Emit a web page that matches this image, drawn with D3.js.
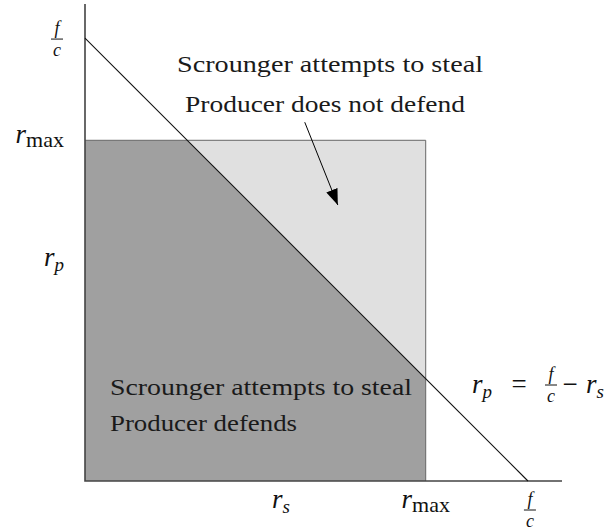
<!DOCTYPE html>
<html>
<head>
<meta charset="utf-8">
<script src="https://cdn.jsdelivr.net/npm/d3@7/dist/d3.min.js"></script>
<style>
    body { margin: 0; background: #fff; }
    svg { display: block; }
</style>
</head>
<body>
<div id="container"></div>
<script>
// values (units of r)
const axisMax = 1.4;
const rMax = 1;
const fOverC = 1.3;
const xLabels = [
    { v: 0.575, main: 'r', sub: 's' },
    { v: rMax, main: 'r', sub: 'max' },
    { v: fOverC, frac: ['f', 'c'] }
];
const yLabels = [
    { v: fOverC, frac: ['f', 'c'] },
    { v: rMax, main: 'r', sub: 'max' },
    { v: 0.64, main: 'r', sub: 'p' }
];
const arrowFrom = [0.645, 1.053];
const arrowTo = [0.742, 0.81];

window.addEventListener('load', () => {
    const W = 616, H = 530;
    const svg = d3.select('#container')
        .append('svg')
        .attr('width', W)
        .attr('height', H);

    const x = d3.scaleLinear().domain([0, axisMax]).range([85, 562]);
    const y = d3.scaleLinear().domain([0, axisMax]).range([481, 4]);
    const line = d3.line().x(d => x(d[0])).y(d => y(d[1]));

    const serif = '"Liberation Serif", "DejaVu Serif", serif';

    // regions: square split by r_p = f/c - r_s
    const k = fOverC - rMax;
    const lower = [[0, 0], [rMax, 0], [rMax, k], [k, rMax], [0, rMax]];
    const upper = [[k, rMax], [rMax, rMax], [rMax, k]];
    svg.append('path')
        .attr('d', line(lower) + 'Z')
        .attr('fill', '#a0a0a0');
    svg.append('path')
        .attr('d', line(upper) + 'Z')
        .attr('fill', '#e0e0e0');
    // square outline (top + right)
    svg.append('path')
        .attr('d', line([[0, rMax], [rMax, rMax], [rMax, 0]]))
        .attr('fill', 'none')
        .attr('stroke', '#666')
        .attr('stroke-width', 1);

    // axes
    svg.append('path')
        .attr('d', line([[0, axisMax], [0, 0], [axisMax, 0]]))
        .attr('fill', 'none')
        .attr('stroke', '#444')
        .attr('stroke-width', 1.6);

    // constraint line
    svg.append('path')
        .attr('d', line([[0, fOverC], [fOverC, 0]]))
        .attr('stroke', '#111')
        .attr('stroke-width', 1.1);

    // arrow
    svg.append('defs').append('marker')
        .attr('id', 'head')
        .attr('viewBox', '0 0 16 12')
        .attr('refX', 16).attr('refY', 6)
        .attr('markerWidth', 16).attr('markerHeight', 12)
        .attr('markerUnits', 'userSpaceOnUse')
        .attr('orient', 'auto')
        .append('path')
        .attr('d', 'M0,0 L16,6 L0,12 Z')
        .attr('fill', '#000');
    svg.append('path')
        .attr('d', line([arrowFrom, arrowTo]))
        .attr('stroke', '#000')
        .attr('stroke-width', 1)
        .attr('marker-end', 'url(#head)');

    // helpers for math text
    const subLabel = (g, px, py, anchor, main, sub) => {
        const t = g.append('text')
            .attr('x', px).attr('y', py)
            .attr('text-anchor', anchor)
            .attr('font-family', serif)
            .attr('fill', '#111');
        t.append('tspan')
            .attr('font-style', 'italic')
            .attr('font-size', 27)
            .text(main);
        t.append('tspan')
            .attr('font-size', sub.length > 1 ? 22 : 19)
            .attr('font-style', sub.length > 1 ? 'normal' : 'italic')
            .attr('dy', sub.length > 1 ? 4 : 5)
            .text(sub);
    };
    const fracLabel = (g, cx, cy, parts) => {
        g.append('text')
            .attr('x', cx).attr('y', cy - 5)
            .attr('text-anchor', 'middle')
            .attr('font-family', serif)
            .attr('font-style', 'italic')
            .attr('font-size', 18)
            .attr('fill', '#111')
            .text(parts[0]);
        g.append('line')
            .attr('x1', cx - 6).attr('x2', cx + 6)
            .attr('y1', cy).attr('y2', cy)
            .attr('stroke', '#111').attr('stroke-width', 1);
        g.append('text')
            .attr('x', cx).attr('y', cy + 17)
            .attr('text-anchor', 'middle')
            .attr('font-family', serif)
            .attr('font-style', 'italic')
            .attr('font-size', 18)
            .attr('fill', '#111')
            .text(parts[1]);
    };

    const labels = svg.append('g');
    xLabels.forEach(d => {
        if (d.frac) fracLabel(labels, x(d.v) + 2, 510, d.frac);
        else subLabel(labels, x(d.v), 508, 'middle', d.main, d.sub);
    });
    yLabels.forEach(d => {
        if (d.frac) fracLabel(labels, 57, y(d.v) + 1, d.frac);
        else subLabel(labels, 64, y(d.v) + 3, 'end', d.main, d.sub);
    });

    // equation of the line
    subLabel(labels, 472, 393, 'start', 'r', 'p');
    labels.append('text')
        .attr('x', 519).attr('y', 393)
        .attr('text-anchor', 'middle')
        .attr('font-family', serif)
        .attr('font-size', 27)
        .attr('fill', '#111')
        .text('=');
    fracLabel(labels, 551, 385, ['f', 'c']);
    labels.append('text')
        .attr('x', 570).attr('y', 393)
        .attr('text-anchor', 'middle')
        .attr('font-family', serif)
        .attr('font-size', 27)
        .attr('fill', '#111')
        .text('\u2212');
    subLabel(labels, 586, 393, 'start', 'r', 's');

    // region annotations
    const notes = [
        { t: 'Scrounger attempts to steal', px: 177, py: 72, len: 306 },
        { t: 'Producer does not defend', px: 185, py: 112, len: 280 },
        { t: 'Scrounger attempts to steal', px: 110, py: 395, len: 302 },
        { t: 'Producer defends', px: 110, py: 431, len: 187 }
    ];
    svg.append('g')
        .selectAll('text')
        .data(notes)
        .enter()
        .append('text')
        .attr('x', d => d.px)
        .attr('y', d => d.py)
        .attr('font-family', serif)
        .attr('font-size', 24)
        .attr('fill', '#1a1a1a')
        .attr('textLength', d => d.len)
        .attr('lengthAdjust', 'spacingAndGlyphs')
        .text(d => d.t);
});
</script>
</body>
</html>
